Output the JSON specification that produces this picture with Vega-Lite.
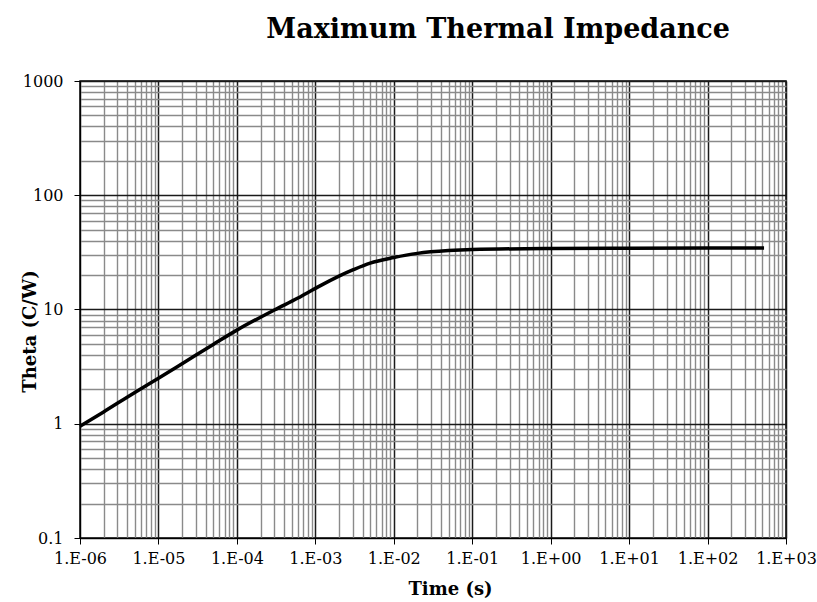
{
  "$schema": "https://vega.github.io/schema/vega-lite/v6.json",
  "autosize": "none",
  "width": 706,
  "height": 457,
  "padding": {"left": 80, "top": 81, "right": 31, "bottom": 64},
  "background": "white",
  "title": {
    "text": "Maximum Thermal Impedance",
    "font": "DejaVu Serif",
    "fontSize": 27,
    "fontWeight": "bold",
    "color": "#000000",
    "anchor": "end",
    "frame": "group",
    "dx": -56,
    "offset": 29
  },
  "data": {
    "values": [
      {"t": 1e-6, "theta": 0.95},
      {"t": 2e-6, "theta": 1.27},
      {"t": 5e-6, "theta": 1.88},
      {"t": 1e-5, "theta": 2.5},
      {"t": 2e-5, "theta": 3.35},
      {"t": 5e-5, "theta": 4.95},
      {"t": 1e-4, "theta": 6.6},
      {"t": 3e-4, "theta": 9.9},
      {"t": 6e-4, "theta": 12.6},
      {"t": 1e-3, "theta": 15.3},
      {"t": 2e-3, "theta": 19.6},
      {"t": 3e-3, "theta": 22.2},
      {"t": 5e-3, "theta": 25.5},
      {"t": 1e-2, "theta": 28.5},
      {"t": 2e-2, "theta": 31.0},
      {"t": 5e-2, "theta": 32.8},
      {"t": 1e-1, "theta": 33.5},
      {"t": 1, "theta": 34.2},
      {"t": 10, "theta": 34.4},
      {"t": 100, "theta": 34.5},
      {"t": 525, "theta": 34.5}
    ]
  },
  "mark": {"type": "line", "color": "#000000", "strokeWidth": 3.5, "interpolate": "monotone"},
  "encoding": {
    "x": {
      "field": "t",
      "type": "quantitative",
      "scale": {"type": "log", "domain": [1e-6, 1000], "nice": false},
      "axis": {
        "title": "Time (s)",
        "values": [1e-6,2e-6,3e-6,4e-6,5e-6,6e-6,7e-6,8e-6,9e-6,
                   1e-5,2e-5,3e-5,4e-5,5e-5,6e-5,7e-5,8e-5,9e-5,
                   1e-4,2e-4,3e-4,4e-4,5e-4,6e-4,7e-4,8e-4,9e-4,
                   1e-3,2e-3,3e-3,4e-3,5e-3,6e-3,7e-3,8e-3,9e-3,
                   1e-2,2e-2,3e-2,4e-2,5e-2,6e-2,7e-2,8e-2,9e-2,
                   0.1,0.2,0.3,0.4,0.5,0.6,0.7,0.8,0.9,
                   1,2,3,4,5,6,7,8,9,
                   10,20,30,40,50,60,70,80,90,
                   100,200,300,400,500,600,700,800,900,1000],
        "labelExpr": "abs(log(datum.value)/LN10 - round(log(datum.value)/LN10)) < 1e-6 ? '1.E' + (round(log(datum.value)/LN10) < 0 ? '-' : '+') + (abs(round(log(datum.value)/LN10)) < 10 ? '0' : '') + abs(round(log(datum.value)/LN10)) : ''",
        "gridColor": {"condition": {"test": "abs(log(datum.value)/LN10 - round(log(datum.value)/LN10)) < 1e-6", "value": "#1a1a1a"}, "value": "#8a8a8a"},
        "gridWidth": {"condition": {"test": "abs(log(datum.value)/LN10 - round(log(datum.value)/LN10)) < 1e-6", "value": 1.5}, "value": 1.4},
        "tickColor": {"condition": {"test": "abs(log(datum.value)/LN10 - round(log(datum.value)/LN10)) < 1e-6", "value": "#000000"}, "value": "transparent"},
        "labelOverlap": false,
        "labelFlush": false,
        "labelPadding": 6,
        "titleX": 370,
        "titleY": 51,
        "titleBaseline": "middle"
      }
    },
    "y": {
      "field": "theta",
      "type": "quantitative",
      "scale": {"type": "log", "domain": [0.1, 1000], "nice": false},
      "axis": {
        "title": "Theta (C/W)",
        "values": [0.1,0.2,0.3,0.4,0.5,0.6,0.7,0.8,0.9,
                   1,2,3,4,5,6,7,8,9,
                   10,20,30,40,50,60,70,80,90,
                   100,200,300,400,500,600,700,800,900,1000],
        "labelExpr": "abs(log(datum.value)/LN10 - round(log(datum.value)/LN10)) < 1e-6 ? '' + datum.value : ''",
        "gridColor": {"condition": {"test": "abs(log(datum.value)/LN10 - round(log(datum.value)/LN10)) < 1e-6", "value": "#1a1a1a"}, "value": "#8a8a8a"},
        "gridWidth": {"condition": {"test": "abs(log(datum.value)/LN10 - round(log(datum.value)/LN10)) < 1e-6", "value": 1.5}, "value": 1.4},
        "tickColor": {"condition": {"test": "abs(log(datum.value)/LN10 - round(log(datum.value)/LN10)) < 1e-6", "value": "#000000"}, "value": "transparent"},
        "labelOverlap": false,
        "labelFlush": false,
        "labelPadding": 11,
        "titleX": -50,
        "titleY": 250,
        "titleBaseline": "middle"
      }
    }
  },
  "config": {
    "view": {"stroke": "#000000", "strokeWidth": 1.5},
    "axis": {
      "labelFont": "DejaVu Serif",
      "labelFontSize": 16,
      "labelColor": "#000000",
      "titleFont": "DejaVu Serif",
      "titleFontSize": 18,
      "titleFontWeight": "bold",
      "titleColor": "#000000",
      "grid": true,
      "gridOpacity": 1,
      "tickSize": 6,
      "domainColor": "#000000"
    }
  }
}
